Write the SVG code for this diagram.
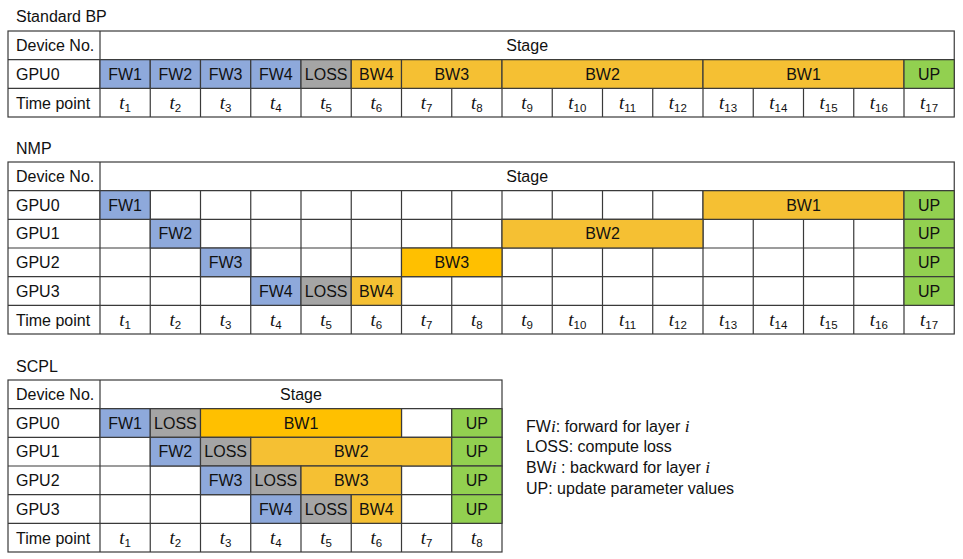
<svg xmlns="http://www.w3.org/2000/svg" width="963" height="559" viewBox="0 0 963 559">
<style>
.grid{fill:none;stroke:#3a3a3a;stroke-width:1.2}
.bg{fill:#fff;stroke:#3a3a3a;stroke-width:1.2}
.b{stroke:#3a3a3a;stroke-width:1.2}
.fw{fill:#8EA9DB}.ls{fill:#A5A5A5}.bw{fill:#F5C033}.bwd{fill:#FFC000}.up{fill:#92D050}
text{font-family:"Liberation Sans",Arial,sans-serif;font-size:16px;fill:#111}
.m{text-anchor:middle}
.t{font-family:"Liberation Serif","Times New Roman",serif;font-style:italic;font-size:19px;text-anchor:middle}
.s{font-family:"Liberation Sans",Arial,sans-serif;font-style:normal;font-size:11.5px}
.i{font-family:"Liberation Serif","Times New Roman",serif;font-style:italic;font-size:17.5px}
</style>
<rect width="963" height="559" fill="#fff"/>

<g id="standard-bp">
<text x="16" y="22">Standard BP</text>
<rect class="bg" x="8" y="31" width="946.25" height="86"/>
<path class="grid" d="M8 59.67H954.25M8 88.33H954.25M100 31V117M150.25 59.67V117M200.5 59.67V117M250.75 59.67V117M301 59.67V117M351.25 59.67V117M401.5 59.67V117M451.75 59.67V117M502 59.67V117M552.25 59.67V117M602.5 59.67V117M652.75 59.67V117M703 59.67V117M753.25 59.67V117M803.5 59.67V117M853.75 59.67V117M904 59.67V117"/>
<text x="16" y="51">Device No.</text>
<text class="m" x="527.13" y="51">Stage</text>
<text x="16" y="79.7">GPU0</text>
<g id="bp-gpu0">
<rect class="b fw" x="100" y="59.67" width="50.25" height="28.67"/><text class="m" x="125.13" y="79.7">FW1</text>
<rect class="b fw" x="150.25" y="59.67" width="50.25" height="28.67"/><text class="m" x="175.38" y="79.7">FW2</text>
<rect class="b fw" x="200.5" y="59.67" width="50.25" height="28.67"/><text class="m" x="225.63" y="79.7">FW3</text>
<rect class="b fw" x="250.75" y="59.67" width="50.25" height="28.67"/><text class="m" x="275.88" y="79.7">FW4</text>
<rect class="b ls" x="301" y="59.67" width="50.25" height="28.67"/><text class="m" x="326.13" y="79.7">LOSS</text>
<rect class="b bw" x="351.25" y="59.67" width="50.25" height="28.67"/><text class="m" x="376.38" y="79.7">BW4</text>
<rect class="b bw" x="401.5" y="59.67" width="100.5" height="28.67"/><text class="m" x="451.75" y="79.7">BW3</text>
<rect class="b bw" x="502" y="59.67" width="201" height="28.67"/><text class="m" x="602.5" y="79.7">BW2</text>
<rect class="b bw" x="703" y="59.67" width="201" height="28.67"/><text class="m" x="803.5" y="79.7">BW1</text>
<rect class="b up" x="904" y="59.67" width="50.25" height="28.67"/><text class="m" x="929.13" y="79.7">UP</text>
</g>
<text x="16" y="108.5">Time point</text>
<g id="bp-time">
<text class="t" x="125.13" y="109">t<tspan class="s" dy="3">1</tspan></text>
<text class="t" x="175.38" y="109">t<tspan class="s" dy="3">2</tspan></text>
<text class="t" x="225.63" y="109">t<tspan class="s" dy="3">3</tspan></text>
<text class="t" x="275.88" y="109">t<tspan class="s" dy="3">4</tspan></text>
<text class="t" x="326.13" y="109">t<tspan class="s" dy="3">5</tspan></text>
<text class="t" x="376.38" y="109">t<tspan class="s" dy="3">6</tspan></text>
<text class="t" x="426.63" y="109">t<tspan class="s" dy="3">7</tspan></text>
<text class="t" x="476.88" y="109">t<tspan class="s" dy="3">8</tspan></text>
<text class="t" x="527.13" y="109">t<tspan class="s" dy="3">9</tspan></text>
<text class="t" x="577.38" y="109">t<tspan class="s" dy="3">10</tspan></text>
<text class="t" x="627.63" y="109">t<tspan class="s" dy="3">11</tspan></text>
<text class="t" x="677.88" y="109">t<tspan class="s" dy="3">12</tspan></text>
<text class="t" x="728.13" y="109">t<tspan class="s" dy="3">13</tspan></text>
<text class="t" x="778.38" y="109">t<tspan class="s" dy="3">14</tspan></text>
<text class="t" x="828.63" y="109">t<tspan class="s" dy="3">15</tspan></text>
<text class="t" x="878.88" y="109">t<tspan class="s" dy="3">16</tspan></text>
<text class="t" x="929.13" y="109">t<tspan class="s" dy="3">17</tspan></text>
</g>
</g>

<g id="nmp">
<text x="16" y="154">NMP</text>
<rect class="bg" x="8" y="162" width="946.25" height="172"/>
<path class="grid" d="M8 190.67H954.25M8 219.33H954.25M8 248H954.25M8 276.67H954.25M8 305.33H954.25M100 162V334M150.25 190.67V334M200.5 190.67V334M250.75 190.67V334M301 190.67V334M351.25 190.67V334M401.5 190.67V334M451.75 190.67V334M502 190.67V334M552.25 190.67V334M602.5 190.67V334M652.75 190.67V334M703 190.67V334M753.25 190.67V334M803.5 190.67V334M853.75 190.67V334M904 190.67V334"/>
<text x="16" y="182">Device No.</text>
<text class="m" x="527.13" y="182">Stage</text>
<text x="16" y="210.7">GPU0</text>
<text x="16" y="239.4">GPU1</text>
<text x="16" y="268">GPU2</text>
<text x="16" y="296.7">GPU3</text>
<text x="16" y="325.5">Time point</text>
<g id="nmp-gpu0">
<rect class="b fw" x="100" y="190.67" width="50.25" height="28.67"/><text class="m" x="125.13" y="210.7">FW1</text>
<rect class="b bw" x="703" y="190.67" width="201" height="28.67"/><text class="m" x="803.5" y="210.7">BW1</text>
<rect class="b up" x="904" y="190.67" width="50.25" height="28.67"/><text class="m" x="929.13" y="210.7">UP</text>
</g>
<g id="nmp-gpu1">
<rect class="b fw" x="150.25" y="219.33" width="50.25" height="28.67"/><text class="m" x="175.38" y="239.4">FW2</text>
<rect class="b bw" x="502" y="219.33" width="201" height="28.67"/><text class="m" x="602.5" y="239.4">BW2</text>
<rect class="b up" x="904" y="219.33" width="50.25" height="28.67"/><text class="m" x="929.13" y="239.4">UP</text>
</g>
<g id="nmp-gpu2">
<rect class="b fw" x="200.5" y="248" width="50.25" height="28.67"/><text class="m" x="225.63" y="268">FW3</text>
<rect class="b bwd" x="401.5" y="248" width="100.5" height="28.67"/><text class="m" x="451.75" y="268">BW3</text>
<rect class="b up" x="904" y="248" width="50.25" height="28.67"/><text class="m" x="929.13" y="268">UP</text>
</g>
<g id="nmp-gpu3">
<rect class="b fw" x="250.75" y="276.67" width="50.25" height="28.67"/><text class="m" x="275.88" y="296.7">FW4</text>
<rect class="b ls" x="301" y="276.67" width="50.25" height="28.67"/><text class="m" x="326.13" y="296.7">LOSS</text>
<rect class="b bw" x="351.25" y="276.67" width="50.25" height="28.67"/><text class="m" x="376.38" y="296.7">BW4</text>
<rect class="b up" x="904" y="276.67" width="50.25" height="28.67"/><text class="m" x="929.13" y="296.7">UP</text>
</g>
<g id="nmp-time">
<text class="t" x="125.13" y="326">t<tspan class="s" dy="3">1</tspan></text>
<text class="t" x="175.38" y="326">t<tspan class="s" dy="3">2</tspan></text>
<text class="t" x="225.63" y="326">t<tspan class="s" dy="3">3</tspan></text>
<text class="t" x="275.88" y="326">t<tspan class="s" dy="3">4</tspan></text>
<text class="t" x="326.13" y="326">t<tspan class="s" dy="3">5</tspan></text>
<text class="t" x="376.38" y="326">t<tspan class="s" dy="3">6</tspan></text>
<text class="t" x="426.63" y="326">t<tspan class="s" dy="3">7</tspan></text>
<text class="t" x="476.88" y="326">t<tspan class="s" dy="3">8</tspan></text>
<text class="t" x="527.13" y="326">t<tspan class="s" dy="3">9</tspan></text>
<text class="t" x="577.38" y="326">t<tspan class="s" dy="3">10</tspan></text>
<text class="t" x="627.63" y="326">t<tspan class="s" dy="3">11</tspan></text>
<text class="t" x="677.88" y="326">t<tspan class="s" dy="3">12</tspan></text>
<text class="t" x="728.13" y="326">t<tspan class="s" dy="3">13</tspan></text>
<text class="t" x="778.38" y="326">t<tspan class="s" dy="3">14</tspan></text>
<text class="t" x="828.63" y="326">t<tspan class="s" dy="3">15</tspan></text>
<text class="t" x="878.88" y="326">t<tspan class="s" dy="3">16</tspan></text>
<text class="t" x="929.13" y="326">t<tspan class="s" dy="3">17</tspan></text>
</g>
</g>

<g id="scpl">
<text x="16" y="371.5">SCPL</text>
<rect class="bg" x="8" y="380" width="494" height="172"/>
<path class="grid" d="M8 408.67H502M8 437.33H502M8 466H502M8 494.67H502M8 523.33H502M100 380V552M150.25 408.67V552M200.5 408.67V552M250.75 408.67V552M301 408.67V552M351.25 408.67V552M401.5 408.67V552M451.75 408.67V552"/>
<text x="16" y="400">Device No.</text>
<text class="m" x="301" y="400">Stage</text>
<text x="16" y="428.7">GPU0</text>
<text x="16" y="457.4">GPU1</text>
<text x="16" y="486">GPU2</text>
<text x="16" y="514.7">GPU3</text>
<text x="16" y="543.5">Time point</text>
<g id="scpl-gpu0">
<rect class="b fw" x="100" y="408.67" width="50.25" height="28.67"/><text class="m" x="125.13" y="428.7">FW1</text>
<rect class="b ls" x="150.25" y="408.67" width="50.25" height="28.67"/><text class="m" x="175.38" y="428.7">LOSS</text>
<rect class="b bwd" x="200.5" y="408.67" width="201" height="28.67"/><text class="m" x="301" y="428.7">BW1</text>
<rect class="b up" x="451.75" y="408.67" width="50.25" height="28.67"/><text class="m" x="476.88" y="428.7">UP</text>
</g>
<g id="scpl-gpu1">
<rect class="b fw" x="150.25" y="437.33" width="50.25" height="28.67"/><text class="m" x="175.38" y="457.4">FW2</text>
<rect class="b ls" x="200.5" y="437.33" width="50.25" height="28.67"/><text class="m" x="225.63" y="457.4">LOSS</text>
<rect class="b bw" x="250.75" y="437.33" width="201" height="28.67"/><text class="m" x="351.25" y="457.4">BW2</text>
<rect class="b up" x="451.75" y="437.33" width="50.25" height="28.67"/><text class="m" x="476.88" y="457.4">UP</text>
</g>
<g id="scpl-gpu2">
<rect class="b fw" x="200.5" y="466" width="50.25" height="28.67"/><text class="m" x="225.63" y="486">FW3</text>
<rect class="b ls" x="250.75" y="466" width="50.25" height="28.67"/><text class="m" x="275.88" y="486">LOSS</text>
<rect class="b bw" x="301" y="466" width="100.5" height="28.67"/><text class="m" x="351.25" y="486">BW3</text>
<rect class="b up" x="451.75" y="466" width="50.25" height="28.67"/><text class="m" x="476.88" y="486">UP</text>
</g>
<g id="scpl-gpu3">
<rect class="b fw" x="250.75" y="494.67" width="50.25" height="28.67"/><text class="m" x="275.88" y="514.7">FW4</text>
<rect class="b ls" x="301" y="494.67" width="50.25" height="28.67"/><text class="m" x="326.13" y="514.7">LOSS</text>
<rect class="b bw" x="351.25" y="494.67" width="50.25" height="28.67"/><text class="m" x="376.38" y="514.7">BW4</text>
<rect class="b up" x="451.75" y="494.67" width="50.25" height="28.67"/><text class="m" x="476.88" y="514.7">UP</text>
</g>
<g id="scpl-time">
<text class="t" x="125.13" y="544">t<tspan class="s" dy="3">1</tspan></text>
<text class="t" x="175.38" y="544">t<tspan class="s" dy="3">2</tspan></text>
<text class="t" x="225.63" y="544">t<tspan class="s" dy="3">3</tspan></text>
<text class="t" x="275.88" y="544">t<tspan class="s" dy="3">4</tspan></text>
<text class="t" x="326.13" y="544">t<tspan class="s" dy="3">5</tspan></text>
<text class="t" x="376.38" y="544">t<tspan class="s" dy="3">6</tspan></text>
<text class="t" x="426.63" y="544">t<tspan class="s" dy="3">7</tspan></text>
<text class="t" x="476.88" y="544">t<tspan class="s" dy="3">8</tspan></text>
</g>
</g>

<g id="legend">
<text x="526" y="431.5">FW<tspan class="i">i</tspan>: forward for layer <tspan class="i">i</tspan></text>
<text x="526" y="452">LOSS: compute loss</text>
<text x="526" y="473">BW<tspan class="i">i</tspan> : backward for layer <tspan class="i">i</tspan></text>
<text x="526" y="494">UP: update parameter values</text>
</g>
</svg>
